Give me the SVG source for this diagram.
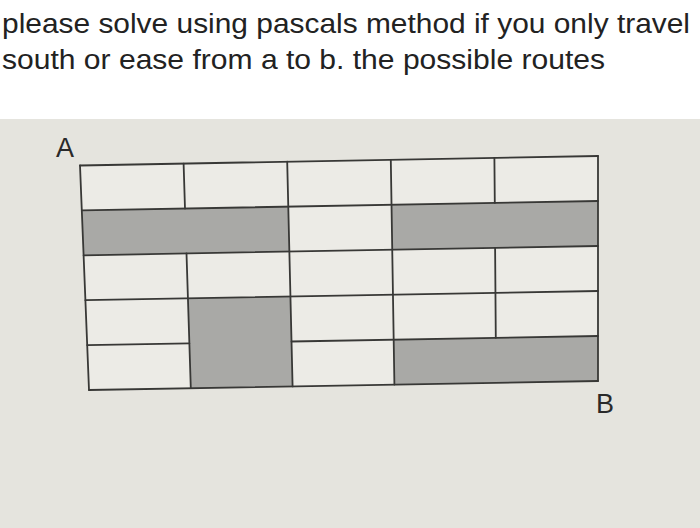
<svg xmlns="http://www.w3.org/2000/svg" width="700" height="528" viewBox="0 0 700 528">
  <style>
    .q { font-family: "Liberation Sans", Arial, sans-serif; font-size: 27.5px; fill: #222; }
    .lbl { font-family: "Liberation Sans", Arial, sans-serif; font-size: 27px; fill: #2a2a2a; }
    .ln { stroke: #383836; stroke-width: 1.8; fill: none; stroke-linecap: round; }
    .gray { fill: #a9a9a6; }
  </style>
  <rect x="0" y="0" width="700" height="119" fill="#ffffff"/>
  <rect x="0" y="119" width="700" height="409" fill="#e5e4de"/>
  <g id="question">
    <text class="q" x="2" y="32.5" textLength="688" lengthAdjust="spacingAndGlyphs">please solve using pascals method if you only travel</text>
    <text class="q" x="2" y="68.5" textLength="603" lengthAdjust="spacingAndGlyphs">south or ease from a to b. the possible routes</text>
  </g>
  <g id="grid">
    <polygon points="80,165.5 598,156 598,381 89,390" fill="#ecebe6"/>
    <polygon class="gray" points="81.8,210.4 288.3,206.6 289.4,251.6 83.6,255.3"/>
    <polygon class="gray" points="391.5,204.8 598,201 598,246 392.2,249.7"/>
    <polygon class="gray" points="187.9,298.4 290.4,296.5 292.6,386.4 190.8,388.2"/>
    <polygon class="gray" points="393.7,339.6 598,336 598,381 394.4,384.6"/>
  </g>
  <g id="lines">
    <line class="ln" x1="80" y1="165.5" x2="598" y2="156"/>
    <line class="ln" x1="81.8" y1="210.4" x2="598" y2="201"/>
    <line class="ln" x1="83.6" y1="255.3" x2="598" y2="246"/>
    <line class="ln" x1="85.4" y1="300.2" x2="598" y2="291"/>
    <line class="ln" x1="87.2" y1="345.1" x2="189.4" y2="343.3"/>
    <line class="ln" x1="291.5" y1="341.5" x2="598" y2="336"/>
    <line class="ln" x1="89" y1="390" x2="598" y2="381"/>
    <line class="ln" x1="80" y1="165.5" x2="89" y2="390"/>
    <line class="ln" x1="183.6" y1="163.6" x2="185" y2="208.5"/>
    <line class="ln" x1="186.5" y1="253.4" x2="190.8" y2="388.2"/>
    <line class="ln" x1="287.2" y1="161.7" x2="292.6" y2="386.4"/>
    <line class="ln" x1="390.8" y1="159.8" x2="394.4" y2="384.6"/>
    <line class="ln" x1="494.4" y1="157.9" x2="494.8" y2="202.9"/>
    <line class="ln" x1="495.1" y1="247.9" x2="495.8" y2="337.8"/>
    <line class="ln" x1="598" y1="156" x2="598" y2="381"/>
  </g>
  <g id="A"><text class="lbl" x="56" y="157">A</text></g>
  <g id="B"><text class="lbl" x="596" y="413">B</text></g>
</svg>
